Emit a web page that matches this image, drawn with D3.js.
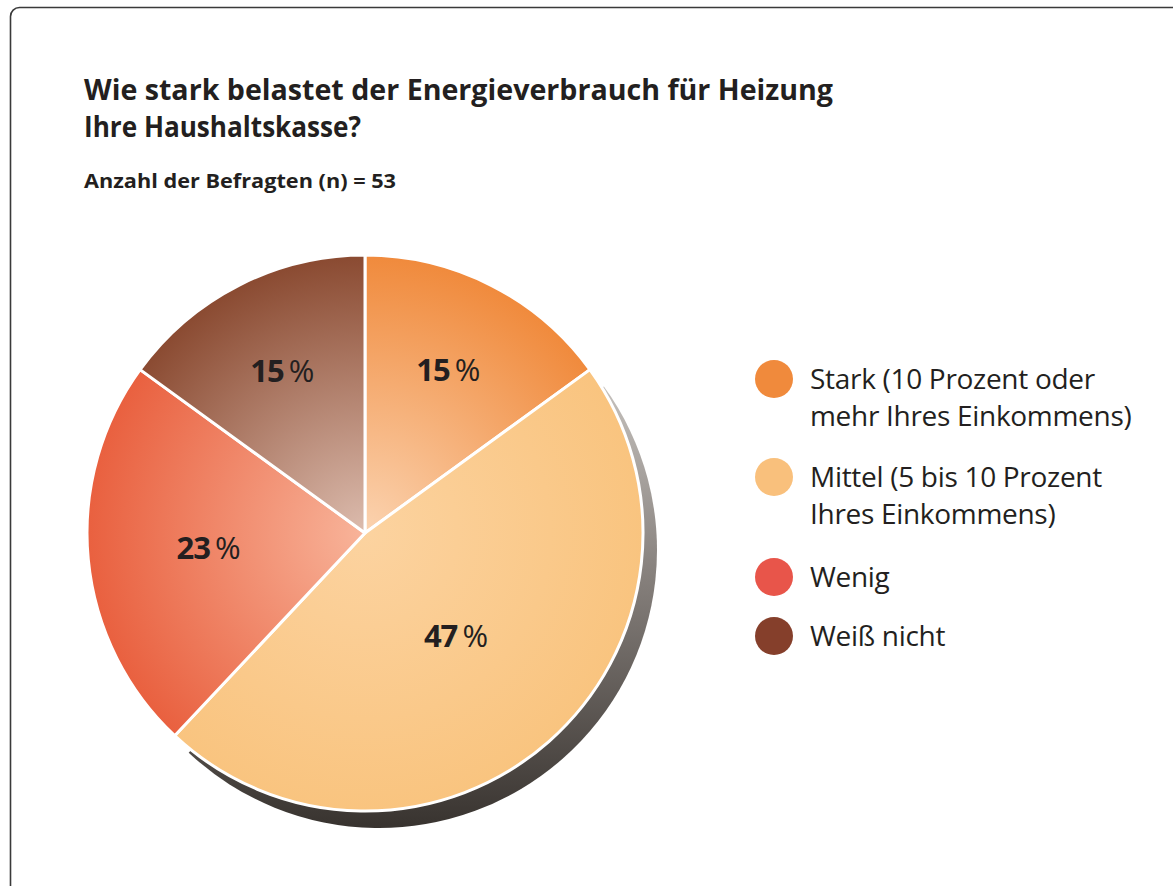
<!DOCTYPE html>
<html>
<head>
<meta charset="utf-8">
<script src="https://cdn.jsdelivr.net/npm/d3@7"></script>
<style>
  html, body { margin: 0; padding: 0; background: #fff; }
  svg { display: block; }
</style>
</head>
<body>
<svg id="chart" width="1173" height="886"></svg>
<script>
'use strict';

// data
const categories = ['Stark', 'Mittel', 'Wenig', 'Weiß nicht'];
const legendLines = [
  ['Stark (10 Prozent oder', 'mehr Ihres Einkommens)'],
  ['Mittel (5 bis 10 Prozent', 'Ihres Einkommens)'],
  ['Wenig'],
  ['Weiß nicht']
];
const shares = [15, 47, 23, 15];
const baseColors = ['#f08a3c', '#f9c47f', '#e9603f', '#8a4a31'];
const lightColors = ['#fbd3b0', '#fcd3a0', '#f8b49a', '#dcbcae'];
const legendColors = ['#f08a3c', '#f9c07c', '#e8554a', '#853f2b'];

const svg = d3.select('#chart');
const defs = svg.append('defs');

/* frame */
svg.append('rect')
  .attr('x', 10.5).attr('y', 7.5).attr('width', 1200).attr('height', 920)
  .attr('rx', 9).attr('fill', '#fff').attr('stroke', '#3a3a3a').attr('stroke-width', 1.6);

/* titles */
const titleFont = '"Open Sans", "Noto Sans", sans-serif';
const title = (txt, y, len, size) => svg.append('text').attr('x', 84).attr('y', y)
  .attr('textLength', len).attr('lengthAdjust', 'spacingAndGlyphs')
  .style('font-family', titleFont).style('font-weight', 700).style('font-size', size + 'px').style('fill', '#231f20')
  .text(txt);
title('Wie stark belastet der Energieverbrauch für Heizung', 100, 749, 28.5);
title('Ihre Haushaltskasse?', 137, 277, 28.5);
title('Anzahl der Befragten (n) = 53', 188, 312, 20);

/* pie */
const cx = 365, cy = 533, R = 278;
const pie = d3.pie().sort(null).value(d => d);
const arcs = pie(shares);
const arc = d3.arc().innerRadius(0).outerRadius(R);

const g = svg.append('g').attr('transform', `translate(${cx},${cy})`);

// shadow gradient (light grey at top, dark at bottom)
const sg = defs.append('linearGradient').attr('id', 'shadow-grad')
  .attr('x1', 0).attr('y1', 0).attr('x2', 0).attr('y2', 1);
sg.append('stop').attr('offset', '0%').attr('stop-color', '#c4c0bc');
sg.append('stop').attr('offset', '40%').attr('stop-color', '#8a8480');
sg.append('stop').attr('offset', '100%').attr('stop-color', '#38332f');

// shadow behind the large slice
g.append('path')
  .attr('d', arc(arcs[1]))
  .attr('transform', 'translate(14,17)')
  .attr('fill', 'url(#shadow-grad)');

// radial gradients per slice, centred on the pie centre
arcs.forEach((a, i) => {
  const rg = defs.append('radialGradient').attr('id', `slice-${i}`)
    .attr('gradientUnits', 'userSpaceOnUse')
    .attr('cx', 0).attr('cy', 0).attr('r', R);
  rg.append('stop').attr('offset', '0%').attr('stop-color', lightColors[i]);
  rg.append('stop').attr('offset', '100%').attr('stop-color', baseColors[i]);
});

g.selectAll('path.slice').data(arcs).join('path')
  .attr('class', 'slice')
  .attr('d', arc)
  .attr('fill', (d, i) => `url(#slice-${i})`)
  .attr('stroke', '#fff')
  .attr('stroke-width', 3)
  .attr('stroke-linejoin', 'round');

// percentage labels (label distance from centre, as share of radius)
const labelR = [0.66, 0.495, 0.565, 0.655];
const labelFont = '"Open Sans", "Noto Sans", sans-serif';
g.selectAll('text.pct').data(arcs).join('text')
  .attr('class', 'pct')
  .attr('transform', (d, i) => {
    const rr = R * labelR[i];
    const ang = (d.startAngle + d.endAngle) / 2;
    return `translate(${rr * Math.sin(ang)},${-rr * Math.cos(ang) + 11})`;
  })
  .attr('text-anchor', 'middle')
  .style('font-family', labelFont).style('font-size', '31px').style('fill', '#231f20')
  .each(function (d) {
    const t = d3.select(this);
    t.append('tspan').style('font-weight', 700).attr('letter-spacing', '-1').text(d.value);
    t.append('tspan').style('font-weight', 400).text('\u2009%');
  });

/* legend */
const legendTop = [379, 477, 577, 636];
const lg = svg.append('g');
categories.forEach((c, i) => {
  const y = legendTop[i];
  lg.append('circle').attr('cx', 774).attr('cy', y).attr('r', 19).attr('fill', legendColors[i]);
  legendLines[i].forEach((line, j) => {
    lg.append('text').attr('x', 810).attr('y', y + 10 + j * 37)
      .style('font-family', labelFont).style('font-size', '28px').style('fill', '#231f20')
      .style('letter-spacing', '-0.3px')
      .text(line);
  });
});
</script>
</body>
</html>
